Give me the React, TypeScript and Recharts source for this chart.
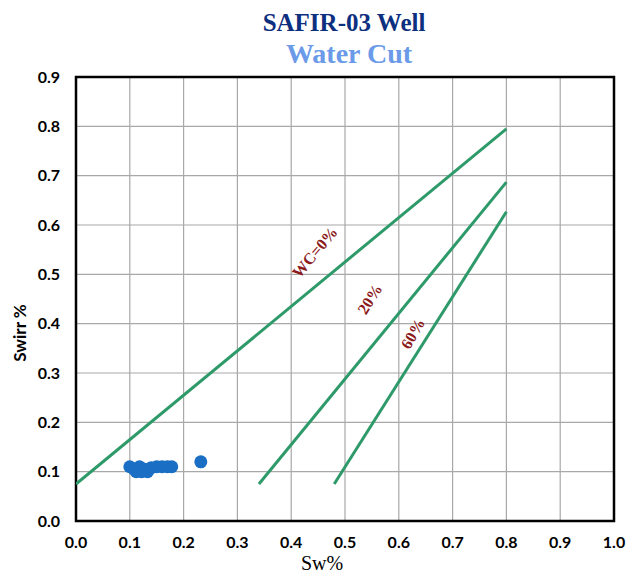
import React from 'react';
import {
  ComposedChart,
  Scatter,
  XAxis,
  YAxis,
  CartesianGrid,
  ReferenceArea,
  ReferenceDot,
} from 'recharts';

// measured points (Sw, Swirr)
const samples = [
  { x: 0.1, y: 0.11 },
  { x: 0.108, y: 0.105 },
  { x: 0.112, y: 0.1 },
  { x: 0.118, y: 0.11 },
  { x: 0.122, y: 0.1 },
  { x: 0.128, y: 0.105 },
  { x: 0.133, y: 0.1 },
  { x: 0.14, y: 0.108 },
  { x: 0.15, y: 0.11 },
  { x: 0.16, y: 0.11 },
  { x: 0.17, y: 0.11 },
  { x: 0.178, y: 0.11 },
  { x: 0.232, y: 0.12 },
];

// water cut lines
const wc0 = [
  { x: 0, y: 0.075 },
  { x: 0.8, y: 0.795 },
];
const wc20 = [
  { x: 0.34, y: 0.075 },
  { x: 0.8, y: 0.687 },
];
const wc60 = [
  { x: 0.48, y: 0.075 },
  { x: 0.8, y: 0.627 },
];

const lineLabels = [
  { text: 'WC=0%', x: 0.444, y: 0.545, angle: -50 },
  { text: '20%', x: 0.546, y: 0.45, angle: -58 },
  { text: '60%', x: 0.626, y: 0.38, angle: -60 },
];

const xTicks = [0, 0.1, 0.2, 0.3, 0.4, 0.5, 0.6, 0.7, 0.8, 0.9, 1.0];
const yTicks = [0, 0.1, 0.2, 0.3, 0.4, 0.5, 0.6, 0.7, 0.8, 0.9];

const GREEN = '#2e9a6a';
const tickStyle = { fontFamily: 'Lato, sans-serif', fontWeight: 700, fontSize: 16, fill: '#000' };

const NoDot = () => null;

const Dot = (props: any) => <circle cx={props.cx} cy={props.cy} r={6.5} fill="#1a6fc4" />;

const RotLabel = (props: any) => {
  const { cx, cy, text, angle } = props;
  return (
    <text
      x={cx}
      y={cy}
      transform={`rotate(${angle}, ${cx}, ${cy})`}
      textAnchor="middle"
      dominantBaseline="central"
      fill="#8b1a1a"
      fontFamily="'Liberation Serif', serif"
      fontWeight={700}
      fontSize={16}
    >
      {text}
    </text>
  );
};

export default function App() {
  return (
    <div style={{ position: 'absolute', left: 0, top: 0, width: 629, height: 576, background: '#fff', overflow: 'hidden' }}>
      <ComposedChart width={629} height={576} margin={{ top: 77, right: 15, bottom: 0, left: 0 }}>
        <CartesianGrid stroke="#a8a8a8" strokeWidth={1.2} />
        <XAxis
          type="number"
          dataKey="x"
          domain={[0, 1]}
          ticks={xTicks}
          tickFormatter={(v: number) => v.toFixed(1)}
          tick={tickStyle}
          tickLine={false}
          axisLine={false}
          height={55}
          tickMargin={10}
          allowDataOverflow
        />
        <YAxis
          type="number"
          dataKey="y"
          domain={[0, 0.9]}
          ticks={yTicks}
          tickFormatter={(v: number) => v.toFixed(1)}
          tick={tickStyle}
          tickLine={false}
          axisLine={false}
          width={76}
          tickMargin={10}
          allowDataOverflow
        />
        <Scatter data={wc0} line={{ stroke: GREEN, strokeWidth: 3 }} shape={NoDot} isAnimationActive={false} />
        <Scatter data={wc20} line={{ stroke: GREEN, strokeWidth: 3 }} shape={NoDot} isAnimationActive={false} />
        <Scatter data={wc60} line={{ stroke: GREEN, strokeWidth: 3 }} shape={NoDot} isAnimationActive={false} />
        <Scatter data={samples} fill="#1a6fc4" shape={Dot} isAnimationActive={false} />
        <ReferenceArea x1={0} x2={1} y1={0} y2={0.9} fill="none" stroke="#000" strokeWidth={2.5} ifOverflow="visible" />
        {lineLabels.map((l) => (
          <ReferenceDot
            key={l.text}
            x={l.x}
            y={l.y}
            r={0}
            ifOverflow="visible"
            shape={(p: any) => <RotLabel cx={p.cx} cy={p.cy} text={l.text} angle={l.angle} />}
          />
        ))}
      </ComposedChart>
      <div
        style={{
          position: 'absolute',
          top: 8,
          left: 244,
          width: 200,
          textAlign: 'center',
          fontFamily: "'Liberation Serif', serif",
          fontWeight: 700,
          fontSize: 25,
          lineHeight: '30px',
          color: '#0d2f80',
        }}
      >
        SAFIR-03 Well
      </div>
      <div
        style={{
          position: 'absolute',
          top: 38,
          left: 249,
          width: 200,
          textAlign: 'center',
          fontFamily: "'Liberation Serif', serif",
          fontWeight: 700,
          fontSize: 28,
          lineHeight: '32px',
          color: '#6a9ae8',
        }}
      >
        Water Cut
      </div>
      <div
        style={{
          position: 'absolute',
          left: 20,
          top: 333,
          transform: 'translate(-50%, -50%) rotate(-90deg)',
          whiteSpace: 'nowrap',
          fontFamily: 'Lato, sans-serif',
          fontWeight: 700,
          fontSize: 17,
          lineHeight: '20px',
        }}
      >
        Swirr %
      </div>
      <div
        style={{
          position: 'absolute',
          left: 272,
          top: 551,
          width: 100,
          textAlign: 'center',
          fontFamily: "'Liberation Serif', serif",
          fontSize: 20,
          lineHeight: '24px',
        }}
      >
        Sw%
      </div>
    </div>
  );
}
